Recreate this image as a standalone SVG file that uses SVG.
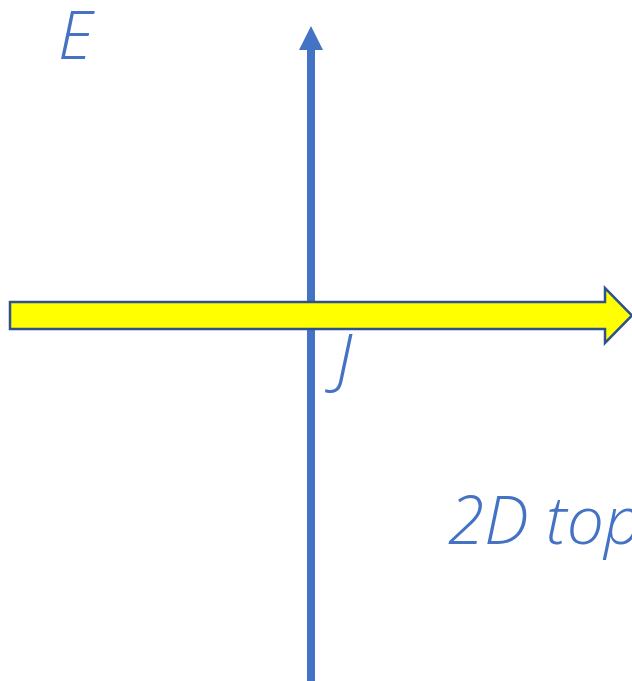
<svg xmlns="http://www.w3.org/2000/svg" width="632" height="681" viewBox="0 0 632 681">
<style>
.lbl{font-family:"Open Sans","Liberation Sans",sans-serif;font-style:italic;font-weight:300;font-size:66px;fill:#4472C4}
</style>
<rect width="632" height="681" fill="#fff"/>
<g id="connectors">
<line x1="311" y1="681" x2="311" y2="48" stroke="#4472C4" stroke-width="8"/>
<polygon points="311,26 299,50 323,50" fill="#4472C4"/>
</g>
<g id="arrow">
<polygon points="10,302 605,302 605,288 632,315.5 605,343 605,329 10,329" fill="#FFFF00" stroke="#2F528F" stroke-width="2.5" stroke-linejoin="miter"/>
</g>
<g id="labels">
<text class="lbl" x="58" y="59">E</text>
<text class="lbl" x="336" y="382">J</text>
<text class="lbl" x="448" y="544">2D top</text>
</g>
</svg>
